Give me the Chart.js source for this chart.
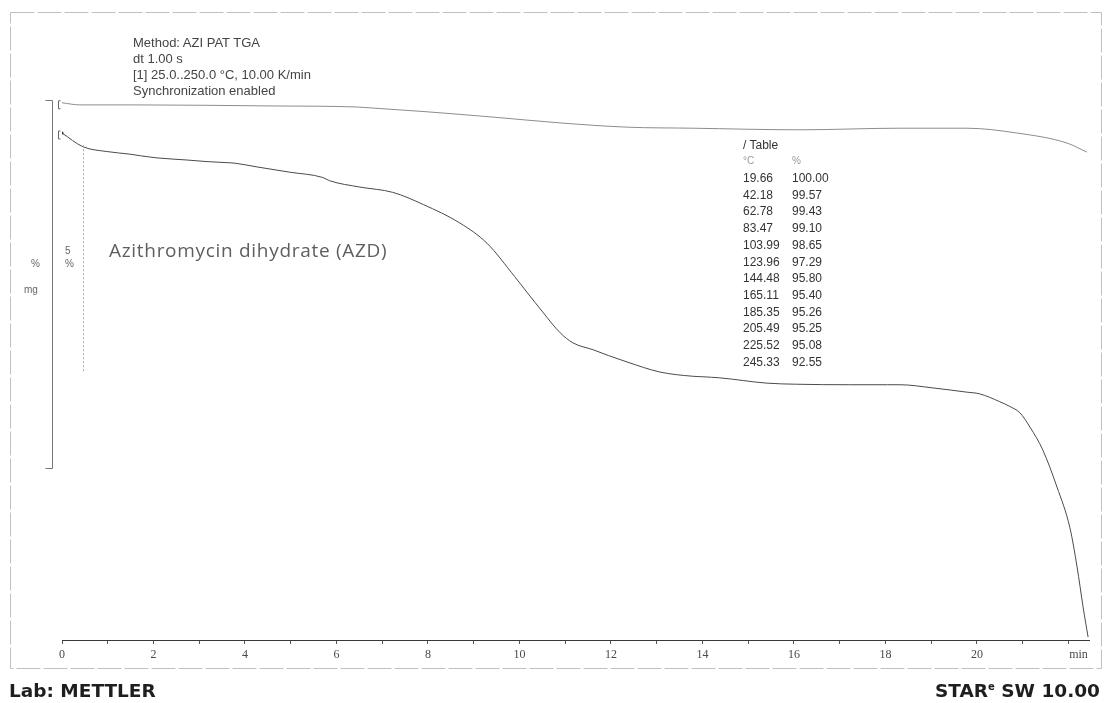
<!DOCTYPE html>
<html>
<head>
<meta charset="utf-8">
<title>TGA – Azithromycin dihydrate</title>
<script src="https://cdn.jsdelivr.net/npm/chart.js@4.4.1/dist/chart.umd.min.js"></script>
<style>
  html, body { margin: 0; padding: 0; background: #fff; }
  #wrap { position: relative; width: 1107px; height: 703px; overflow: hidden;
          font-family: "Liberation Sans", Arial, sans-serif; }
  #c { position: absolute; left: 0; top: 0; }
  .t { position: absolute; white-space: nowrap; line-height: 1; }
  .hdr { font-size: 13px; color: #444; left: 133px; }
  .side { font-size: 10px; color: #666; }
  .foot { font-family: "DejaVu Sans", sans-serif; font-weight: bold; font-size: 18.5px; color: #1e1e1e; }
  .foot sup { font-size: 10px; font-weight: bold; vertical-align: 7px; line-height: 0; }
  #tbl { position: absolute; left: 743px; top: 139px; font-size: 12px; color: #333; }
  #tbl .row { position: absolute; left: 0; white-space: nowrap; line-height: 1; }
  #tbl .c2 { position: absolute; left: 49px; }
  #tbl .head { color: #999; font-size: 10px; }
</style>
</head>
<body>
<div id="wrap">
  <canvas id="c" width="1107" height="703"></canvas>

  <div class="t hdr" style="top:36px">Method: AZI PAT TGA</div>
  <div class="t hdr" style="top:52px">dt 1.00 s</div>
  <div class="t hdr" style="top:68px">[1] 25.0..250.0 °C, 10.00 K/min</div>
  <div class="t hdr" style="top:84px">Synchronization enabled</div>

  <div class="t side" style="left:31px;top:259px">%</div>
  <div class="t side" style="left:24px;top:285px">mg</div>
  <div class="t side" style="left:65px;top:246px">5</div>
  <div class="t side" style="left:65px;top:259px">%</div>

  <div class="t" style="left:109px;top:241px;font-family:'Open Sans',sans-serif;font-size:19px;letter-spacing:0.7px;color:#5e5e5e;">Azithromycin dihydrate (AZD)</div>

  <div id="tbl"></div>

  <div class="t foot" style="left:9px;top:682px">Lab: METTLER</div>
  <div class="t foot" style="right:7px;top:682px">STAR<sup>e</sup> SW 10.00</div>
</div>

<script>
// ---- measured mass loss, % of initial mass, against time in minutes ----
const timeMin = [0, 0.46, 0.98, 1.49, 2.08, 2.73, 3.17, 3.61, 4.26, 4.98, 5.70,
                 6.51, 7.23, 8.70, 9.29, 10.16, 10.51, 10.89, 11.17, 11.61, 12.35,
                 13.07, 13.79, 14.38, 15.41, 17.22, 18.32, 19.04, 19.78,
                 20.50, 20.72, 20.94, 21.16, 21.44, 21.75, 22.19, 22.32, 22.43];
const massPct = [100.00, 99.74, 99.65, 99.60, 99.53, 99.49, 99.46, 99.44, 99.36, 99.26, 99.16,
                 98.98, 98.88, 98.30, 97.92, 97.00, 96.62, 96.23, 96.04, 95.91, 95.68,
                 95.49, 95.41, 95.38, 95.28, 95.25, 95.25, 95.19, 95.11,
                 94.93, 94.84, 94.72, 94.45, 94.02, 93.32, 91.81, 91.06, 90.49];

// ---- second (upper) trace ----
const blankTime = [0, 0.39, 1.55, 4.61, 6.45, 6.80, 7.98, 9.42, 10.89, 12.35,
                   13.79, 16.13, 18.32, 19.78, 20.87, 21.97, 22.40];
const blankPct  = [100.57, 100.53, 100.53, 100.51, 100.49, 100.47, 100.40, 100.30, 100.19, 100.11,
                   100.09, 100.06, 100.09, 100.09, 100.00, 99.81, 99.64];

// ---- evaluation table: sample temperature (°C) and remaining mass (%) ----
const tableTempC = [19.66, 42.18, 62.78, 83.47, 103.99, 123.96, 144.48, 165.11, 185.35, 205.49, 225.52, 245.33];
const tablePct   = [100.00, 99.57, 99.43, 99.10, 98.65, 97.29, 95.80, 95.40, 95.26, 95.25, 95.08, 92.55];

// ---- time axis ----
const tickValues = [0, 1, 2, 3, 4, 5, 6, 7, 8, 9, 10, 11, 12, 13, 14, 15, 16, 17, 18, 19, 20, 21, 22];
const tickLabelValues = [0, 2, 4, 6, 8, 10, 12, 14, 16, 18, 20];
const unitLabel = 'min';

// temperature program: 25.0 .. 250.0 °C at 10.00 K/min
const programStartC = 25.0;
const heatingRate = 10.0;

// layout constants
const xMax = 22.45;
const yMin = 90.434, yMax = 100.811;
const unitLabelAt = 22.22;
const rangeBar = { time: -0.22, top: 100.62, bottom: 93.68 };
const fiveBar  = { time: 0.46, top: 99.77, bottom: 95.49 };

// table text
(function buildTable() {
  const el = document.getElementById('tbl');
  const rows = [];
  rows.push({ a: '/ Table', b: '', top: 0, cls: '' });
  rows.push({ a: '°C', b: '%', top: 17, cls: 'head' });
  tableTempC.forEach((T, i) => {
    rows.push({ a: T.toFixed(2), b: tablePct[i].toFixed(2), top: 33 + i * 16.7, cls: '' });
  });
  rows.forEach(r => {
    const d = document.createElement('div');
    d.className = 'row ' + r.cls;
    d.style.top = r.top + 'px';
    d.innerHTML = '<span>' + r.a + '</span><span class="c2">' + r.b + '</span>';
    el.appendChild(d);
  });
})();

// combine the traced curve with the tabulated points (time from temperature)
const mainPoints = timeMin.map((t, i) => ({ x: t, y: massPct[i] }))
  .concat(tableTempC.map((T, i) => ({ x: (T - programStartC) / heatingRate, y: tablePct[i] }))
                    .filter(p => p.x >= 0))
  .sort((a, b) => a.x - b.x);
const blankPoints = blankTime.map((t, i) => ({ x: t, y: blankPct[i] }));

const decor = {
  id: 'decor',
  beforeDraw(chart) {
    const { ctx } = chart;
    ctx.save();
    ctx.strokeStyle = '#c0c0c0';
    ctx.lineWidth = 1;
    ctx.setLineDash([24, 3]);
    ctx.strokeRect(10.5, 12.5, 1091, 656);
    ctx.restore();
  },
  afterDraw(chart) {
    const { ctx, scales: { x, y } } = chart;
    ctx.save();
    // range bar with end caps
    const bx = Math.round(x.getPixelForValue(rangeBar.time)) + 0.5;
    const bt = Math.round(y.getPixelForValue(rangeBar.top)) + 0.5;
    const bb = Math.round(y.getPixelForValue(rangeBar.bottom)) + 0.5;
    ctx.strokeStyle = '#777';
    ctx.lineWidth = 1;
    ctx.beginPath();
    ctx.moveTo(bx - 7, bt); ctx.lineTo(bx, bt); ctx.lineTo(bx, bb); ctx.lineTo(bx - 7, bb);
    ctx.stroke();
    // 5 % bar
    const fx = Math.round(x.getPixelForValue(fiveBar.time)) + 0.5;
    ctx.strokeStyle = '#aaa';
    ctx.setLineDash([2, 2]);
    ctx.beginPath();
    ctx.moveTo(fx, y.getPixelForValue(fiveBar.top));
    ctx.lineTo(fx, y.getPixelForValue(fiveBar.bottom));
    ctx.stroke();
    ctx.setLineDash([]);
    // start brackets of both curves
    ctx.strokeStyle = '#666';
    [mainPoints[0], blankPoints[0]].forEach(p => {
      const px = Math.round(x.getPixelForValue(p.x)) - 3.5;
      const py = y.getPixelForValue(p.y);
      ctx.beginPath();
      ctx.moveTo(px + 2, py - 2); ctx.lineTo(px, py - 2); ctx.lineTo(px, py + 6); ctx.lineTo(px + 2, py + 6);
      ctx.stroke();
    });
    ctx.restore();
  }
};

new Chart(document.getElementById('c'), {
  type: 'line',
  data: {
    datasets: [
      {
        label: 'Mass',
        data: mainPoints,
        borderColor: '#4a4a4a',
        borderWidth: 1,
        pointRadius: ctx => (ctx.dataIndex === 0 ? 1.6 : 0),
        pointBackgroundColor: '#333',
        pointBorderWidth: 0,
        cubicInterpolationMode: 'monotone',
        fill: false
      },
      {
        label: 'Upper trace',
        data: blankPoints,
        borderColor: '#8c8c8c',
        borderWidth: 1,
        pointRadius: 0,
        cubicInterpolationMode: 'monotone',
        fill: false
      }
    ]
  },
  options: {
    responsive: false,
    devicePixelRatio: 1,
    animation: false,
    events: [],
    layout: { padding: { left: 62, right: 18, top: 90, bottom: 35 } },
    plugins: { legend: { display: false }, tooltip: { enabled: false } },
    scales: {
      x: {
        type: 'linear',
        min: 0,
        max: xMax,
        position: 'bottom',
        afterBuildTicks: s => {
          s.ticks = tickValues.map(v => ({ value: v })).concat([{ value: unitLabelAt }]);
        },
        afterFit: s => { s.height = 28; },
        grid: {
          display: true,
          drawOnChartArea: false,
          drawTicks: true,
          tickLength: 4,
          tickColor: ctx => (ctx.tick && ctx.tick.value === unitLabelAt ? 'rgba(0,0,0,0)' : '#555')
        },
        border: { display: true, color: '#3a3a3a', width: 1 },
        ticks: {
          autoSkip: false,
          maxRotation: 0,
          padding: 4,
          color: '#4a4a4a',
          font: { family: 'Liberation Serif', size: 12 },
          callback: v => (v === unitLabelAt ? unitLabel : (tickLabelValues.includes(v) ? String(v) : ''))
        }
      },
      y: {
        type: 'linear',
        min: yMin,
        max: yMax,
        display: false
      }
    }
  },
  plugins: [decor]
});
</script>
</body>
</html>
